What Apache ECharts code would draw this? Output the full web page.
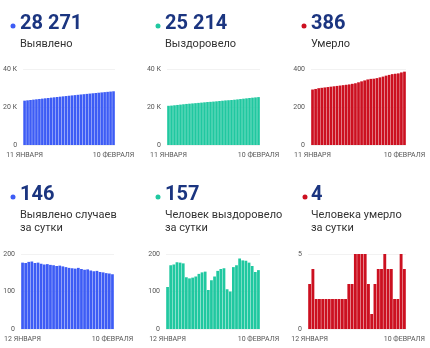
<!DOCTYPE html>
<html><head><meta charset="utf-8">
<script src="https://cdn.jsdelivr.net/npm/echarts@6/dist/echarts.min.js"></script>
<style>html,body{margin:0;padding:0;background:#fff}#c{width:430px;height:348px}</style>
</head><body><div id="c"></div>
<script>
const dates = ["11 ЯНВАРЯ","12 ЯНВАРЯ","13 ЯНВАРЯ","14 ЯНВАРЯ","15 ЯНВАРЯ","16 ЯНВАРЯ","17 ЯНВАРЯ","18 ЯНВАРЯ","19 ЯНВАРЯ","20 ЯНВАРЯ","21 ЯНВАРЯ","22 ЯНВАРЯ","23 ЯНВАРЯ","24 ЯНВАРЯ","25 ЯНВАРЯ","26 ЯНВАРЯ","27 ЯНВАРЯ","28 ЯНВАРЯ","29 ЯНВАРЯ","30 ЯНВАРЯ","31 ЯНВАРЯ","1 ФЕВРАЛЯ","2 ФЕВРАЛЯ","3 ФЕВРАЛЯ","4 ФЕВРАЛЯ","5 ФЕВРАЛЯ","6 ФЕВРАЛЯ","7 ФЕВРАЛЯ","8 ФЕВРАЛЯ","9 ФЕВРАЛЯ","10 ФЕВРАЛЯ"];
const dailyDates = dates.slice(1);

const totalCases = [23340,23517,23693,23872,24052,24228,24405,24579,24751,24924,25095,25265,25433,25602,25769,25934,26097,26259,26420,26583,26743,26901,27060,27216,27370,27525,27677,27828,27977,28125,28271];
const totalRecovered = [20630,20742,20912,21084,21262,21439,21614,21752,21887,22024,22164,22311,22462,22615,22719,22849,22989,23144,23304,23466,23572,23672,23837,24007,24195,24378,24560,24737,24905,25057,25214];
const totalDeaths = [292,295,299,301,303,305,307,309,311,313,315,317,319,322,325,330,335,340,345,348,349,352,356,360,365,369,373,375,377,382,386];
const dailyCases = [177,176,179,180,176,177,174,172,173,171,170,168,169,167,165,163,162,161,163,160,158,159,156,154,155,152,151,149,148,146];
const dailyRecovered = [112,170,172,178,177,175,138,135,137,140,147,151,153,104,130,140,155,160,162,106,100,165,170,188,183,182,177,168,152,157];
const dailyDeaths = [3,4,2,2,2,2,2,2,2,2,2,2,3,3,5,5,5,5,3,1,3,4,4,5,4,4,2,2,5,4];

const headline = ["28 271","25 214","386","146","157","4"];
const captions = [["Выявлено"],["Выздоровело"],["Умерло"],["Выявлено случаев","за сутки"],["Человек выздоровело","за сутки"],["Человека умерло","за сутки"]];

const BLUE = '#3d5cf5', TEAL = '#20c8a0', RED = '#cc1020', NAVY = '#1b3580';
const FONT = 'Roboto';

const panels = [
  {cats: dates, data: totalCases, color: BLUE, max: 40000, interval: 20000, k: true,
   grid: {left: 22, top: 69, width: 93, height: 76}, tx: 20, ty: 0, dx: 13},
  {cats: dates, data: totalRecovered, color: TEAL, max: 40000, interval: 20000, k: true,
   grid: {left: 167, top: 69, width: 93, height: 76}, tx: 165, ty: 0, dx: 158},
  {cats: dates, data: totalDeaths, color: RED, max: 400, interval: 200,
   grid: {left: 311, top: 69, width: 95, height: 76}, tx: 311, ty: 0, dx: 304},
  {cats: dailyDates, data: dailyCases, color: BLUE, max: 200, interval: 100,
   grid: {left: 21, top: 254, width: 93, height: 75}, tx: 20, ty: 171, dx: 13},
  {cats: dailyDates, data: dailyRecovered, color: TEAL, max: 200, interval: 100,
   grid: {left: 166, top: 254, width: 94, height: 75}, tx: 165, ty: 171, dx: 158},
  {cats: dailyDates, data: dailyDeaths, color: RED, max: 5, interval: 5,
   grid: {left: 308, top: 254, width: 98, height: 75}, tx: 311, ty: 171, dx: 305}
];

const grids = [], xAxes = [], yAxes = [], series = [], graphics = [];
panels.forEach((p, i) => {
  grids.push(p.grid);
  const n = p.cats.length;
  xAxes.push({type: 'category', gridIndex: i, data: p.cats,
    axisLine: {show: false}, axisTick: {show: false},
    axisLabel: {interval: 0, fontSize: 7, color: '#555', fontFamily: FONT, margin: 7,
      formatter: (v, idx) => (idx === 0 || idx === n - 1) ? v : ''}});
  yAxes.push({type: 'value', gridIndex: i, min: 0, max: p.max, interval: p.interval,
    axisLine: {show: false}, axisTick: {show: false},
    splitLine: {lineStyle: {color: '#f2f2f2', width: 1}},
    axisLabel: {fontSize: 7, color: '#555', fontFamily: FONT, margin: 6,
      formatter: v => p.k ? (v === 0 ? '0' : (v / 1000) + ' К') : String(v)}});
  series.push({type: 'bar', xAxisIndex: i, yAxisIndex: i, data: p.data,
    barCategoryGap: '12%', itemStyle: {color: p.color}, silent: true, animation: false});
  graphics.push({type: 'circle', shape: {cx: p.dx, cy: p.ty + 26, r: 2.5}, style: {fill: p.color}});
  graphics.push({type: 'text', x: p.tx, y: p.ty + 24, style: {text: headline[i], fill: NAVY,
    fontSize: 20, fontWeight: 'bold', fontFamily: FONT, verticalAlign: 'middle', align: 'left'}});
  captions[i].forEach((line, j) => {
    graphics.push({type: 'text', x: p.tx, y: p.ty + 44.5 + j * 13, style: {text: line, fill: '#333',
      fontSize: 11, fontFamily: FONT, verticalAlign: 'middle', align: 'left'}});
  });
});

const chart = echarts.init(document.getElementById('c'), null, {renderer: 'canvas'});
chart.setOption({animation: false, grid: grids, xAxis: xAxes, yAxis: yAxes, series: series, graphic: graphics});
</script></body></html>
